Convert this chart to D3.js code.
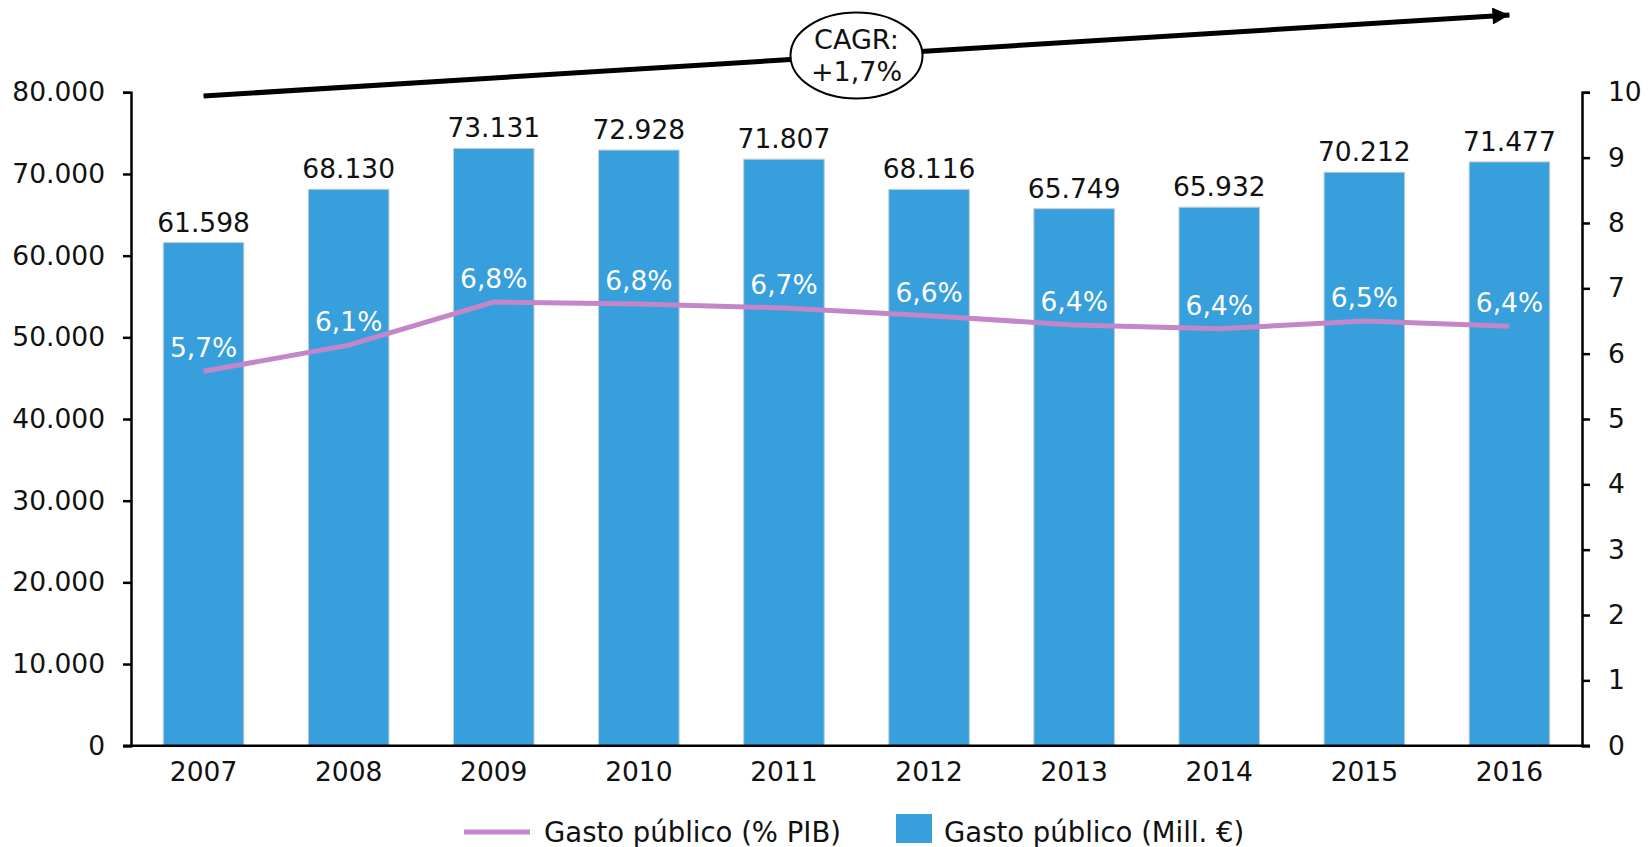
<!DOCTYPE html>
<html>
<head>
<meta charset="utf-8">
<script src="https://cdn.jsdelivr.net/npm/d3@7"></script>
<style>
  body { margin: 0; background: #fff; }
  text { font-family: "DejaVu Sans", Verdana, sans-serif; }
</style>
</head>
<body>
<div id="chart"></div>
<script>
// data
var years = ["2007", "2008", "2009", "2010", "2011", "2012", "2013", "2014", "2015", "2016"];
var gastoMill = [61598, 68130, 73131, 72928, 71807, 68116, 65749, 65932, 70212, 71477];
var gastoPct = [5.73, 6.13, 6.79, 6.76, 6.70, 6.58, 6.44, 6.38, 6.50, 6.42];
var leftTicks = [0, 10000, 20000, 30000, 40000, 50000, 60000, 70000, 80000];
var rightTicks = [0, 1, 2, 3, 4, 5, 6, 7, 8, 9, 10];
var legendLabels = ["Gasto público (% PIB)", "Gasto público (Mill. €)"];
var cagrLines = ["CAGR:", "+1,7%"];

var W = 1652, H = 847;
var margin = {top: 92.3, right: 70, bottom: 101.3, left: 131};
var barColor = "#379fdc", lineColor = "#c386c9";
var fontSize = 26.5;

var es = d3.formatLocale({decimal: ",", thousands: ".", grouping: [3], currency: ["", "€"]});
var fmtMill = es.format(",d");
var fmtPct = es.format(".1f");

var svg = d3.select("#chart").append("svg")
    .attr("width", W)
    .attr("height", H);

var x = d3.scaleBand().domain(years)
    .range([margin.left, W - margin.right])
    .paddingInner(0.445).paddingOuter(0.2225);
var yL = d3.scaleLinear().domain([0, 80000]).range([H - margin.bottom, margin.top]);
var yR = d3.scaleLinear().domain([0, 10]).range([H - margin.bottom, margin.top]);

// bars
svg.append("g").selectAll("rect")
  .data(gastoMill)
  .enter().append("rect")
    .attr("x", (d, i) => x(years[i]))
    .attr("y", d => yL(d))
    .attr("width", x.bandwidth())
    .attr("height", d => yL(0) - yL(d))
    .attr("fill", barColor)
    .attr("stroke", "#c4ccd2")
    .attr("stroke-width", 1);

// value labels above bars
svg.append("g").selectAll("text")
  .data(gastoMill)
  .enter().append("text")
    .attr("x", (d, i) => x(years[i]) + x.bandwidth() / 2)
    .attr("y", d => yL(d) - 11)
    .attr("text-anchor", "middle")
    .attr("font-size", fontSize)
    .attr("fill", "#111")
    .text(d => fmtMill(d));

// line
var line = d3.line()
  .x((d, i) => x(years[i]) + x.bandwidth() / 2)
  .y(d => yR(d));

svg.append("path")
  .datum(gastoPct)
  .attr("d", line)
  .attr("fill", "none")
  .attr("stroke", lineColor)
  .attr("stroke-width", 5);

svg.append("g").selectAll("text")
  .data(gastoPct)
  .enter().append("text")
    .attr("x", (d, i) => x(years[i]) + x.bandwidth() / 2)
    .attr("y", d => yR(d) - 14)
    .attr("text-anchor", "middle")
    .attr("font-size", fontSize)
    .attr("fill", "#fff")
    .text(d => fmtPct(d) + "%");

// axes
var axL = svg.append("g")
  .attr("transform", "translate(" + margin.left + ",0)")
  .call(d3.axisLeft(yL).tickValues(leftTicks).tickSize(8).tickPadding(18).tickFormat(fmtMill));
var axR = svg.append("g")
  .attr("transform", "translate(" + (W - margin.right) + ",0)")
  .call(d3.axisRight(yR).tickValues(rightTicks).tickSize(8).tickPadding(18));
var axB = svg.append("g")
  .attr("transform", "translate(0," + yL(0) + ")")
  .call(d3.axisBottom(x).tickSize(0).tickPadding(16));

[axL, axR, axB].forEach(function(a) {
  a.select(".domain").attr("stroke", "#000").attr("stroke-width", 2.5);
  a.selectAll(".tick line").attr("stroke", "#000").attr("stroke-width", 2.5);
  a.selectAll(".tick text").attr("font-size", fontSize).attr("fill", "#111")
    .style("font-family", "'DejaVu Sans', Verdana, sans-serif");
});
// bottom baseline spans between the outer ticks
axB.select(".domain").attr("d", "M" + (margin.left - 8) + ",0H" + (W - margin.right + 8));

// CAGR arrow from 2007 to 2016
var x0 = x(years[0]) + x.bandwidth() / 2, y0 = 96;
var x1 = x(years[years.length - 1]) + x.bandwidth() / 2, y1 = 15;

svg.append("defs").append("marker")
  .attr("id", "head")
  .attr("viewBox", "0 0 10 10")
  .attr("refX", 10).attr("refY", 5)
  .attr("markerUnits", "userSpaceOnUse")
  .attr("markerWidth", 19).attr("markerHeight", 17)
  .attr("orient", "auto")
  .append("path").attr("d", "M0,0L10,5L0,10Z").attr("fill", "#000");

svg.append("line")
  .attr("x1", x0).attr("y1", y0)
  .attr("x2", x1).attr("y2", y1)
  .attr("stroke", "#000")
  .attr("stroke-width", 5)
  .attr("marker-end", "url(#head)");

var cx = (x0 + x1) / 2, cy = (y0 + y1) / 2;
svg.append("ellipse")
  .attr("cx", cx).attr("cy", cy)
  .attr("rx", 66).attr("ry", 43)
  .attr("fill", "#fff")
  .attr("stroke", "#000")
  .attr("stroke-width", 2);

svg.append("g").selectAll("text")
  .data(cagrLines)
  .enter().append("text")
    .attr("x", cx)
    .attr("y", (d, i) => cy - 7 + i * 32)
    .attr("text-anchor", "middle")
    .attr("font-size", 27)
    .attr("fill", "#111")
    .text(d => d);

// legend
var lg = svg.append("g").attr("transform", "translate(0,832)");
lg.append("line")
  .attr("x1", 464).attr("x2", 530)
  .attr("y1", 0).attr("y2", 0)
  .attr("stroke", lineColor).attr("stroke-width", 5);
lg.append("text")
  .attr("x", 544).attr("y", 10)
  .attr("font-size", 27.5).attr("fill", "#111")
  .text(legendLabels[0]);
lg.append("rect")
  .attr("x", 896).attr("y", -18)
  .attr("width", 36).attr("height", 29)
  .attr("fill", barColor);
lg.append("text")
  .attr("x", 944).attr("y", 10)
  .attr("font-size", 27.5).attr("fill", "#111")
  .text(legendLabels[1]);
</script>
</body>
</html>
